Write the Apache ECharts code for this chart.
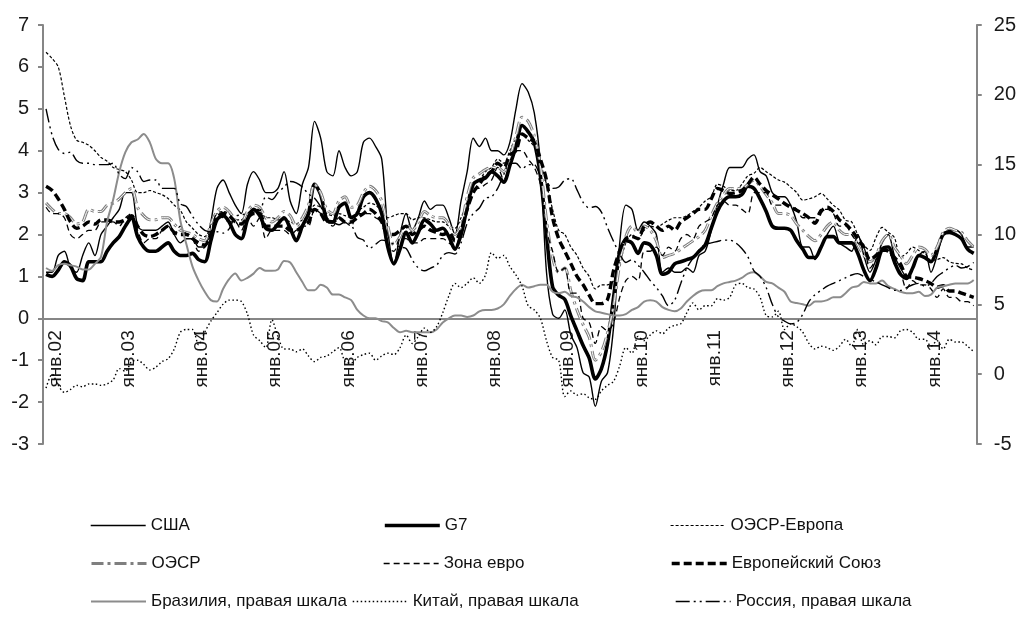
<!DOCTYPE html>
<html>
<head>
<meta charset="utf-8">
<script src="https://cdn.jsdelivr.net/npm/echarts@6/dist/echarts.min.js"></script>
<style>
  html, body { margin: 0; background: #fff; }
  #chart { width: 1019px; height: 617px; }
</style>
</head>
<body>
<div id="chart"></div>
<script>
// месяцы: янв.2002 - сен.2014
const monthNames = ['янв', 'фев', 'мар', 'апр', 'май', 'июн', 'июл', 'авг', 'сен', 'окт', 'ноя', 'дек']
const months = []
for (let i = 0; i < 153; i++) {
  months.push(monthNames[i % 12] + '.' + String(2 + Math.floor(i / 12)).padStart(2, '0'))
}

// левая шкала, % г/г
const usa = [
  1.1, 1.1, 1.5, 1.6, 1.2, 1.1, 1.5, 1.8, 1.5, 2.0, 2.2, 2.4,
  2.6, 3.0, 3.0, 2.2, 2.1, 2.1, 2.1, 2.2, 2.3, 2.0, 1.8, 1.9,
  1.9, 1.7, 1.7, 2.3, 3.1, 3.3, 3.0, 2.7, 2.5, 3.2, 3.5, 3.3,
  3.0, 3.0, 3.1, 3.5, 2.8, 2.5, 3.2, 3.6, 4.7, 4.3, 3.5, 3.4,
  4.0, 3.6, 3.4, 3.5, 4.2, 4.3, 4.1, 3.8, 2.1, 1.3, 2.0, 2.5,
  2.1, 2.4, 2.8, 2.6, 2.7, 2.7, 2.4, 2.0, 2.8, 3.5, 4.3, 4.1,
  4.3, 4.0, 4.0, 3.9, 4.2, 5.0, 5.6, 5.4, 4.9, 3.7, 1.1, 0.1,
  0.0, 0.2, -0.4, -0.7, -1.3, -1.4, -2.1, -1.5, -1.3, -0.2, 1.8, 2.7,
  2.6, 2.1, 2.3, 2.2, 2.0, 1.1, 1.2, 1.1, 1.1, 1.2, 1.1, 1.5,
  1.6, 2.1, 2.7, 3.2, 3.6, 3.6, 3.6, 3.8, 3.9, 3.5, 3.4, 3.0,
  2.9, 2.9, 2.7, 2.3, 1.7, 1.7, 1.4, 1.7, 2.0, 2.2, 1.8, 1.7,
  1.6, 2.0, 1.5, 1.1, 1.4, 1.8, 2.0, 1.5, 1.2, 1.0, 1.2, 1.5,
  1.6, 1.1, 1.5, 2.0, 2.1, 2.1, 2.0, 1.7, 1.7
]
const g7 = [
  1.05, 1.0, 1.15, 1.35, 1.25, 0.95, 0.9, 1.35, 1.35, 1.35, 1.6, 1.8,
  1.95, 2.2, 2.4, 1.95, 1.7, 1.6, 1.6, 1.7, 1.8, 1.6, 1.5, 1.5,
  1.55, 1.4, 1.35, 1.85, 2.35, 2.45, 2.3, 2.0, 1.9, 2.35, 2.6, 2.45,
  2.15, 2.1, 2.25, 2.4, 2.15, 1.85, 2.2, 2.5, 3.2, 2.95, 2.35, 2.3,
  2.65, 2.75, 2.4, 2.5, 2.9, 3.0, 2.85, 2.5, 1.7, 1.3, 1.65, 2.05,
  1.8, 2.05, 2.35, 2.25, 2.1, 2.15, 1.95, 1.65, 2.0, 2.65, 3.2, 3.3,
  3.35, 3.5, 3.4, 3.25, 3.65, 4.1, 4.6, 4.45, 4.2, 3.4, 2.0, 0.75,
  0.55, 0.45, 0.05, -0.3, -0.65, -0.95, -1.45, -1.2, -0.6, 0.5, 1.6, 1.85,
  1.8, 1.55, 1.8, 1.75, 1.5, 1.05, 1.1, 1.3, 1.35, 1.4, 1.45, 1.6,
  1.75, 2.15, 2.55, 2.8, 2.9, 2.9, 2.95, 3.15, 3.1, 2.85, 2.55, 2.2,
  2.15, 2.15, 2.1, 1.85, 1.65, 1.45, 1.45, 1.7, 1.95, 1.95, 1.8, 1.8,
  1.8, 1.55, 1.15, 0.9, 1.2, 1.65, 1.7, 1.35, 1.05, 0.95, 1.2, 1.5,
  1.45, 1.35, 1.65, 2.0, 2.05, 2.0, 1.9, 1.65, 1.55
]
const oecdEurope = [
  6.35, 6.2, 6.0, 5.3, 4.6, 4.25, 4.2, 4.13, 4.0, 3.84, 3.75, 3.6,
  3.55, 3.5, 3.3, 3.0, 3.0, 3.05, 3.0, 2.95, 2.86, 2.7, 2.58, 2.3,
  2.15, 2.0, 1.95, 2.2, 2.5, 2.55, 2.5, 2.35, 2.35, 2.5, 2.6, 2.6,
  2.4, 2.4, 2.35, 2.35, 2.3, 2.25, 2.35, 2.45, 2.7, 2.65, 2.5, 2.45,
  2.5, 2.45, 2.4, 2.55, 2.65, 2.75, 2.7, 2.55, 2.4, 2.45, 2.5, 2.5,
  2.35, 2.4, 2.4, 2.35, 2.3, 2.3, 2.2, 2.15, 2.4, 2.8, 3.2, 3.3,
  3.5, 3.6, 3.8, 3.7, 4.0, 4.3, 4.4, 4.25, 4.1, 3.7, 3.2, 2.6,
  2.1, 2.0, 1.7, 1.5, 1.2, 1.0, 0.7, 0.8, 0.8, 0.9, 1.3, 1.8,
  2.0, 1.9, 2.1, 2.2, 2.17, 2.25, 2.34, 2.4, 2.4, 2.45, 2.55, 2.65,
  2.8, 2.9, 3.2, 3.15, 3.05, 3.05, 3.2, 3.4, 3.46, 3.6, 3.5, 3.4,
  3.3, 3.25, 3.13, 3.0, 2.82, 2.85, 2.9, 2.98, 2.85, 2.7, 2.58, 2.34,
  2.3, 2.0, 1.75, 1.62, 1.93, 2.17, 2.05, 1.93, 1.46, 1.55, 1.7, 1.62,
  1.55, 1.38, 1.4, 1.45, 1.35, 1.31, 1.3, 1.2, 1.15
]
const oecd = [
  2.75, 2.6, 2.5, 2.5, 2.4, 2.25, 2.3, 2.6, 2.55, 2.55, 2.7, 2.75,
  2.85, 3.0, 3.1, 2.65, 2.45, 2.35, 2.35, 2.4, 2.4, 2.25, 2.1, 2.05,
  2.0, 1.9, 1.85, 2.25, 2.55, 2.65, 2.55, 2.35, 2.3, 2.55, 2.7, 2.65,
  2.4, 2.3, 2.4, 2.55, 2.45, 2.2, 2.4, 2.7, 3.2, 3.0, 2.6, 2.5,
  2.8, 2.9, 2.65, 2.7, 3.0, 3.15, 3.05, 2.8, 2.2, 1.75, 1.95, 2.25,
  2.1, 2.3, 2.55, 2.45, 2.4, 2.4, 2.25, 2.0, 2.2, 2.9, 3.35, 3.45,
  3.55, 3.6, 3.6, 3.5, 3.85, 4.35, 4.8, 4.7, 4.35, 3.65, 2.35, 1.45,
  1.1, 1.2, 0.65, 0.2, -0.15, -0.45, -1.0, -0.8, -0.35, 0.3, 1.3, 1.95,
  2.2, 2.05, 2.2, 2.1, 1.85, 1.45, 1.5, 1.55, 1.65, 1.75, 1.85, 1.95,
  2.1, 2.45, 2.75, 2.95, 3.1, 3.1, 3.1, 3.2, 3.3, 3.15, 2.95, 2.75,
  2.5, 2.5, 2.45, 2.25, 2.1, 1.95, 1.85, 2.0, 2.2, 2.3, 2.1, 2.0,
  2.0, 1.75, 1.5, 1.35, 1.5, 1.85, 2.0, 1.7, 1.5, 1.3, 1.5, 1.7,
  1.65, 1.5, 1.7, 2.05, 2.15, 2.1, 2.05, 1.85, 1.7
]
const euroArea = [
  2.65, 2.5, 2.5, 2.4, 2.0, 1.9, 2.0, 2.1, 2.1, 2.3, 2.3, 2.3,
  2.2, 2.4, 2.5, 2.1, 1.8, 1.9, 1.9, 2.1, 2.2, 2.0, 2.2, 2.0,
  1.9, 1.6, 1.7, 2.0, 2.5, 2.4, 2.3, 2.3, 2.1, 2.4, 2.2, 2.4,
  1.9, 2.1, 2.1, 2.1, 2.0, 2.1, 2.2, 2.2, 2.6, 2.5, 2.3, 2.2,
  2.4, 2.3, 2.2, 2.5, 2.5, 2.5, 2.4, 2.3, 1.7, 1.6, 1.9, 1.9,
  1.8, 1.8, 1.9, 1.9, 1.9, 1.9, 1.8, 1.7, 2.1, 2.6, 3.1, 3.1,
  3.2, 3.3, 3.6, 3.3, 3.7, 4.0, 4.0, 3.8, 3.6, 3.2, 2.1, 1.6,
  1.1, 1.2, 0.6, 0.6, 0.0, -0.1, -0.6, -0.2, -0.3, -0.1, 0.5, 0.9,
  1.0, 0.9, 1.6, 1.6, 1.7, 1.5, 1.7, 1.6, 1.9, 2.0, 1.9, 2.2,
  2.3, 2.4, 2.7, 2.8, 2.7, 2.7, 2.6, 2.5, 3.0, 3.0, 3.0, 2.7,
  2.7, 2.7, 2.7, 2.6, 2.4, 2.4, 2.4, 2.6, 2.6, 2.5, 2.2, 2.2,
  2.0, 1.8, 1.7, 1.2, 1.4, 1.6, 1.6, 1.3, 1.1, 0.7, 0.9, 0.8,
  0.8, 0.7, 0.5, 0.7, 0.5, 0.5, 0.4, 0.4, 0.3
]
const eu = [
  3.15, 3.05, 2.85, 2.6, 2.3, 2.15, 2.2, 2.3, 2.25, 2.35, 2.35, 2.3,
  2.3, 2.35, 2.45, 2.2, 2.0, 1.95, 2.0, 2.1, 2.2, 2.05, 2.0, 2.0,
  1.9, 1.8, 1.75, 2.0, 2.4, 2.5, 2.45, 2.3, 2.25, 2.4, 2.5, 2.5,
  2.2, 2.2, 2.2, 2.2, 2.1, 2.1, 2.2, 2.3, 2.6, 2.5, 2.3, 2.3,
  2.4, 2.3, 2.3, 2.4, 2.5, 2.6, 2.5, 2.3, 2.0, 2.0, 2.1, 2.2,
  2.0, 2.1, 2.2, 2.1, 2.05, 2.0, 2.05, 1.85, 2.1, 2.6, 3.0, 3.2,
  3.4, 3.5, 3.7, 3.6, 3.9, 4.0, 4.4, 4.3, 4.2, 3.8, 3.3, 2.4,
  1.9, 1.6, 1.3, 1.0, 0.8, 0.55, 0.35, 0.35, 0.45, 1.15, 1.6, 1.9,
  1.95, 1.9, 2.2, 2.3, 2.2, 2.1, 2.2, 2.1, 2.3, 2.4, 2.5, 2.6,
  2.6, 2.85, 3.1, 3.05, 2.98, 3.0, 3.05, 3.2, 3.37, 3.2, 3.05, 2.95,
  2.85, 2.74, 2.65, 2.58, 2.5, 2.4, 2.27, 2.55, 2.65, 2.55, 2.35, 2.25,
  2.1, 1.9, 1.7, 1.4, 1.5, 1.65, 1.6, 1.45, 1.3, 1.0, 0.98, 0.95,
  0.9, 0.83, 0.74, 0.78, 0.65, 0.65, 0.6, 0.55, 0.5
]

// правая шкала, % г/г
const brazil = [
  7.6, 7.4, 7.8, 7.9, 7.8, 7.7, 7.5, 7.5, 7.9, 8.4, 10.9, 12.5,
  14.5, 15.9, 16.6, 16.8, 17.2, 16.6, 15.4, 15.1, 15.1, 14.0, 11.0, 9.3,
  7.7, 6.7, 5.9, 5.3, 5.2, 6.1, 6.8, 7.2, 6.7, 6.9, 7.2, 7.6,
  7.4, 7.4, 7.5, 8.1, 8.0, 7.3, 6.6, 6.0, 6.0, 6.4, 6.2, 5.7,
  5.7, 5.5, 5.3, 4.6, 4.2, 4.0, 4.0, 3.8, 3.7, 3.3, 3.0, 3.1,
  3.0, 3.0, 3.0, 3.0, 3.2, 3.7, 4.0, 4.2, 4.2, 4.1, 4.2, 4.5,
  4.6, 4.6, 4.7, 5.0, 5.6, 6.1, 6.4, 6.2, 6.3, 6.4, 6.4, 5.9,
  5.8, 5.9, 5.6, 5.5, 5.2, 4.8, 4.5, 4.4, 4.3, 4.2, 4.2, 4.3,
  4.6, 4.8, 5.2, 5.3, 5.2, 4.8, 4.6, 4.5, 4.7, 5.2, 5.6, 5.9,
  6.0, 6.0, 6.3, 6.5, 6.6, 6.7, 6.9, 7.2, 7.3, 7.0, 6.6, 6.5,
  6.2, 5.9, 5.2, 5.1, 5.0, 4.9, 5.2, 5.2, 5.3, 5.5, 5.5, 5.8,
  6.2, 6.3, 6.6, 6.5, 6.5, 6.7, 6.3, 6.1, 5.9, 5.8, 5.8, 5.9,
  5.6, 5.7, 6.2, 6.3, 6.4, 6.5, 6.5, 6.5, 6.75
]
const china = [
  -1.0, 0.0, -0.8, -1.3, -1.1, -0.8, -0.9, -0.7, -0.7, -0.8, -0.7, -0.4,
  0.4, 0.2, 0.9, 1.0, 0.7, 0.3, 0.5, 0.9, 1.1, 1.8, 3.0, 3.2,
  3.2, 2.1, 3.0, 3.8, 4.4, 5.0, 5.3, 5.3, 5.2, 4.3, 2.8, 2.4,
  1.9, 3.9, 2.7, 1.8, 1.8, 1.6, 1.8, 1.3, 0.9, 1.2, 1.3, 1.6,
  1.9, 0.9, 0.8, 1.2, 1.4, 1.5, 1.0, 1.3, 1.5, 1.4, 1.9, 2.8,
  2.2, 2.7, 3.3, 3.0, 3.4, 4.4, 5.6, 6.5, 6.2, 6.5, 6.9, 6.5,
  7.1, 8.7, 8.3, 8.5, 7.7, 7.1, 6.3, 4.9, 4.6, 4.0, 2.4, 1.2,
  1.0, -1.6, -1.2, -1.5, -1.4, -1.7, -1.8, -1.2, -0.8, -0.5, 0.6, 1.9,
  1.5, 2.7, 2.4, 2.8, 3.1, 2.9, 3.3, 3.5, 3.6, 4.4, 5.1, 4.6,
  4.9, 4.9, 5.4, 5.3, 5.5, 6.4, 6.5, 6.2, 6.1, 5.5, 4.2, 4.1,
  4.5, 3.2, 3.6, 3.4, 3.0, 2.2, 1.8, 2.0, 1.9, 1.7, 2.0, 2.5,
  2.0, 3.2, 2.1, 2.4, 2.1, 2.7, 2.7, 2.6, 3.1, 3.2, 3.0, 2.5,
  2.5, 2.0, 2.4, 1.8, 2.5, 2.3, 2.3, 2.0, 1.6
]
const russia = [
  19.0, 17.1, 16.1, 15.8, 15.9, 15.3, 15.1, 15.1, 15.0, 15.0, 15.0, 15.1,
  14.3, 14.0, 14.8, 14.5, 13.8, 13.9, 13.9, 13.3, 13.3, 13.3, 12.2, 12.0,
  11.3, 10.7, 10.3, 10.2, 10.2, 10.1, 10.4, 11.3, 11.4, 11.5, 11.7, 11.7,
  12.7, 12.5, 13.0, 13.4, 13.8, 13.7, 13.4, 12.9, 12.6, 12.0, 11.2, 10.9,
  10.7, 10.9, 10.7, 9.8, 9.6, 9.0, 9.3, 9.6, 9.5, 9.3, 9.1, 9.0,
  8.2, 7.6, 7.4, 7.6, 7.8, 8.5, 8.7, 8.6, 9.4, 10.8, 11.5, 11.9,
  12.6, 12.7, 13.3, 14.3, 15.1, 15.1, 14.7, 15.0, 15.0, 14.2, 13.8, 13.3,
  13.4, 13.9, 14.0, 13.2, 12.3, 11.9, 12.0, 11.6, 10.5, 9.5, 8.6, 8.0,
  8.2, 7.8, 7.3, 6.7, 6.2, 5.6, 4.9, 5.3, 6.5, 7.6, 8.3, 8.9,
  9.3, 9.4, 9.5, 9.6, 9.6, 9.4, 9.0, 8.4, 7.4, 7.0, 6.2, 5.0,
  4.1, 3.8, 3.6, 3.7, 4.3, 5.2, 5.7, 6.0, 6.3, 6.5, 6.7, 6.9,
  7.1, 7.2, 7.0, 6.8, 6.6, 6.4, 6.2, 6.0, 6.0, 6.2, 6.4, 6.5,
  6.3, 6.5, 7.0, 7.3, 7.6, 7.8, 7.6, 7.7, 8.0
]

const font = '"Liberation Sans", Arial, sans-serif'
const axisColor = '#868686'

function line(name, data, lineStyle, yAxisIndex = 0, extra = {}) {
  return Object.assign({
    name,
    type: 'line',
    data,
    yAxisIndex,
    symbol: 'none',
    smooth: 0.3,
    itemStyle: { color: lineStyle.color || '#000' },
    lineStyle: Object.assign({ color: '#000' }, lineStyle)
  }, extra)
}

// стиль линий
const styles = {
  'США': { width: 1.4 },
  'G7': { width: 3.6 },
  'ОЭСР-Европа': { width: 1.2, type: [3, 2] },
  'ОЭСР': { width: 3, color: '#7f7f7f', type: [12, 4, 3, 4] },
  'Зона евро': { width: 1.3, type: [6, 4] },
  'Европейский Союз': { width: 3.4, type: [8, 4] },
  'Бразилия, правая шкала': { width: 2, color: '#8c8c8c' },
  'Китай, правая шкала': { width: 1.4, type: [1.5, 2.5] },
  'Россия, правая шкала': { width: 1.4, type: [14, 4, 2, 4, 2, 4] }
}
// позиции элементов легенды
const legendPos = [
  ['США', 90, 517], ['G7', 383, 517], ['ОЭСР-Европа', 670, 517],
  ['ОЭСР', 90, 555], ['Зона евро', 383, 555], ['Европейский Союз', 670, 555],
  ['Бразилия, правая шкала', 90, 593], ['Китай, правая шкала', 352, 593], ['Россия, правая шкала', 675, 593]
]

const chart = echarts.init(document.getElementById('chart'))
chart.setOption({
  animation: false,
  backgroundColor: '#fff',
  textStyle: { fontFamily: font },
  grid: { left: 43, right: 41, top: 25, bottom: 173 },
  legend: legendPos.map(([name, left, top]) => ({
    data: [name],
    left,
    top,
    padding: 0,
    itemWidth: 55,
    itemHeight: 14,
    selectedMode: false,
    itemStyle: { color: 'rgba(0,0,0,0)', borderColor: 'rgba(0,0,0,0)', borderWidth: 0, opacity: 0 },
    lineStyle: Object.assign({ color: '#000' }, styles[name]),
    textStyle: { fontSize: 17, color: '#111', fontFamily: font }
  })),
  xAxis: {
    type: 'category',
    data: months,
    boundaryGap: true,
    offset: -125.7, // ось X проходит через 0 левой шкалы
    axisLine: { onZero: false, lineStyle: { color: axisColor, width: 2 } },
    axisTick: { interval: 11, length: 6, lineStyle: { color: axisColor, width: 2 } },
    axisLabel: {
      interval: 11,
      rotate: 90,
      margin: 12,
      verticalAlign: 'top',
      fontSize: 19,
      color: '#1a1a1a',
      fontFamily: font
    },
    splitLine: { show: false }
  },
  yAxis: [
    {
      type: 'value',
      min: -3,
      max: 7,
      interval: 1,
      axisLine: { show: true, lineStyle: { color: axisColor, width: 2 } },
      axisTick: { show: true, length: 5, lineStyle: { color: axisColor, width: 2 } },
      axisLabel: { fontSize: 20, color: '#1a1a1a', margin: 14, fontFamily: font },
      splitLine: { show: false }
    },
    {
      type: 'value',
      position: 'right',
      min: -5,
      max: 25,
      interval: 5,
      axisLine: { show: true, lineStyle: { color: axisColor, width: 2 } },
      axisTick: { show: true, length: 5, lineStyle: { color: axisColor, width: 2 } },
      axisLabel: { fontSize: 20, color: '#1a1a1a', margin: 17, fontFamily: font },
      splitLine: { show: false }
    }
  ],
  series: [
    line('США', usa, styles['США']),
    line('G7', g7, styles['G7']),
    line('ОЭСР-Европа', oecdEurope, styles['ОЭСР-Европа']),
    line('ОЭСР', oecd, styles['ОЭСР']),
    // светлая сердцевина двойной линии ОЭСР
    line('ОЭСР ', oecd, { width: 1, color: '#fff', type: [12, 4, 3, 4] }, 0, { silent: true }),
    line('Зона евро', euroArea, styles['Зона евро']),
    line('Европейский Союз', eu, styles['Европейский Союз']),
    line('Бразилия, правая шкала', brazil, styles['Бразилия, правая шкала'], 1),
    line('Китай, правая шкала', china, styles['Китай, правая шкала'], 1),
    line('Россия, правая шкала', russia, styles['Россия, правая шкала'], 1)
  ]
})
</script>
</body>
</html>
